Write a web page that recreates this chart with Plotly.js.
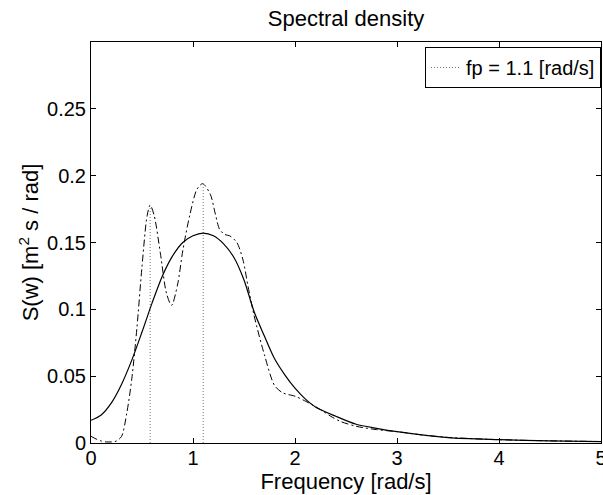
<!DOCTYPE html>
<html>
<head>
<meta charset="utf-8">
<script src="https://cdn.plot.ly/plotly-3.0.1.min.js"></script>
<style>
  html, body { margin: 0; padding: 0; background: #fff; }
  #chart { width: 603px; height: 495px; }
</style>
</head>
<body>
<div id="chart"></div>
<script>
// Smooth (model) spectrum
const modelFreq = [0, 0.1, 0.2, 0.3, 0.4, 0.5, 0.6, 0.7, 0.8, 0.9, 1.0, 1.1, 1.2, 1.3, 1.4, 1.5, 1.6, 1.7, 1.8, 1.9, 2.0, 2.1, 2.2, 2.4, 2.6, 2.8, 3.0, 3.5, 4.0, 4.5, 5.0];
const modelS    = [0.017, 0.021, 0.030, 0.044, 0.062, 0.083, 0.105, 0.125, 0.140, 0.150, 0.155, 0.157, 0.155, 0.149, 0.139, 0.122, 0.098, 0.080, 0.063, 0.051, 0.041, 0.033, 0.027, 0.020, 0.014, 0.011, 0.0085, 0.0040, 0.0025, 0.0016, 0.0010];

// Estimated (dash-dot) spectrum
const estFreq = [0, 0.05, 0.1, 0.15, 0.2, 0.25, 0.3, 0.35, 0.4, 0.45, 0.5, 0.55, 0.58, 0.62, 0.68, 0.74, 0.79, 0.85, 0.9, 0.97, 1.04, 1.095, 1.17, 1.22, 1.26, 1.31, 1.36, 1.43, 1.49, 1.54, 1.6, 1.7, 1.8, 1.88, 2.0, 2.11, 2.25, 2.35, 2.45, 2.6, 2.8, 3.0, 3.25, 3.5, 4.0, 4.5, 5.0];
const estS    = [0.005, 0.003, 0.0015, 0.0008, 0.0008, 0.0015, 0.005, 0.022, 0.048, 0.086, 0.132, 0.170, 0.178, 0.170, 0.142, 0.112, 0.103, 0.119, 0.144, 0.171, 0.190, 0.194, 0.186, 0.171, 0.160, 0.156, 0.155, 0.150, 0.137, 0.117, 0.095, 0.066, 0.043, 0.0375, 0.035, 0.031, 0.025, 0.020, 0.016, 0.0125, 0.010, 0.0085, 0.0060, 0.0042, 0.0025, 0.0016, 0.0011];

// Peak frequency markers
const peakFreq = [0.58, 1.1];
const peakTop  = [0.176, 0.193];
const peakLabel = 'fp = 1.1 [rad/s]';

const xTicks = [0, 1, 2, 3, 4, 5];
const yTicks = [0, 0.05, 0.1, 0.15, 0.2, 0.25];
const yTickText = ['0', '0.05', '0.1', '0.15', '0.2', '0.25'];

const FONT = 'Liberation Sans, Arial, Helvetica, sans-serif';

const traces = [];
peakFreq.forEach((f, i) => {
  traces.push({
    x: [f, f], y: [0, peakTop[i]],
    mode: 'lines', type: 'scatter',
    line: { color: '#777', width: 1, dash: '1px,2px' },
    name: peakLabel,
    showlegend: i === peakFreq.length - 1,
    hoverinfo: 'skip'
  });
});
traces.push({
  x: modelFreq, y: modelS, mode: 'lines', type: 'scatter',
  line: { color: '#000', width: 1.2, shape: 'spline', smoothing: 0.8 },
  showlegend: false
});
traces.push({
  x: estFreq, y: estS, mode: 'lines', type: 'scatter',
  line: { color: '#000', width: 1, dash: '7px,3px,2px,3px', shape: 'spline', smoothing: 0.8 },
  showlegend: false
});

const axisCommon = {
  showline: true, linecolor: '#000', linewidth: 1, mirror: 'ticks',
  ticks: 'inside', ticklen: 5, tickcolor: '#000', tickwidth: 1,
  showgrid: false, zeroline: false, automargin: false,
  ticklabeloverflow: 'allow',
  tickfont: { family: FONT, size: 20, color: '#000' }
};

const layout = {
  width: 603, height: 495,
  margin: { l: 91, r: 2, t: 42, b: 52, pad: 0 },
  paper_bgcolor: '#fff', plot_bgcolor: '#fff',
  font: { family: FONT, color: '#000' },
  title: {
    text: 'Spectral density',
    font: { family: FONT, size: 22, color: '#000' },
    x: 0.5, xref: 'paper', xanchor: 'center',
    y: 1 - 18 / 495, yref: 'container', yanchor: 'middle'
  },
  xaxis: Object.assign({}, axisCommon, {
    range: [0, 5], tickmode: 'array', tickvals: xTicks,
    ticklabelstandoff: -3,
    title: { text: 'Frequency [rad/s]', font: { family: FONT, size: 22, color: '#000' }, standoff: 0 }
  }),
  yaxis: Object.assign({}, axisCommon, {
    range: [0, 0.3], tickmode: 'array', tickvals: yTicks, ticktext: yTickText,
    title: { text: 'S(w) [m<sup>2</sup> s / rad]', font: { family: FONT, size: 22, color: '#000' }, standoff: 2 }
  }),
  legend: {
    x: 1, xanchor: 'right', xref: 'paper',
    y: 1 - 5 / 401, yanchor: 'top', yref: 'paper',
    bgcolor: '#fff', bordercolor: '#000', borderwidth: 1,
    font: { family: FONT, size: 20, color: '#000' },
    itemwidth: 30
  },
  showlegend: true
};

Plotly.newPlot('chart', traces, layout, { staticPlot: true, displayModeBar: false });
</script>
</body>
</html>
